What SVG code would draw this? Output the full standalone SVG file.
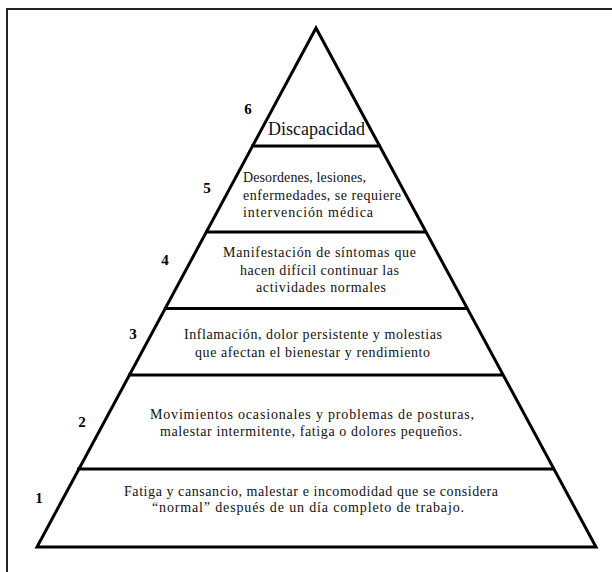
<svg xmlns="http://www.w3.org/2000/svg" width="612" height="572" viewBox="0 0 612 572">
  <style>
    .frame { fill: none; stroke: #222; stroke-width: 2; }
    .edge { fill: none; stroke: #000; stroke-width: 3; stroke-linejoin: miter; }
    .sep { stroke: #000; stroke-width: 3; }
    text { font-family: 'Liberation Serif', 'Times New Roman', 'DejaVu Serif', serif; }
    .t { font-size: 14px; fill: #111; }
    .c { text-anchor: middle; }
    .num { font-size: 15px; font-weight: bold; fill: #000; text-anchor: middle; }
    .big { font-size: 18px; }
  </style>
  <rect x="0" y="0" width="612" height="572" fill="#fff"/>
  <path class="frame" d="M7,572 V9 H612"/>
  <g id="pyramid">
    <polygon class="edge" points="316,28 596,547 37,547"/>
    <line class="sep" x1="251" y1="146" x2="381" y2="146"/>
    <line class="sep" x1="205" y1="232" x2="427" y2="232"/>
    <line class="sep" x1="164" y1="308.5" x2="468" y2="308.5"/>
    <line class="sep" x1="128" y1="375" x2="504" y2="375"/>
    <line class="sep" x1="77" y1="469" x2="555" y2="469"/>
  </g>
  <g id="level6" font-family="Liberation Serif, serif">
    <text class="num" x="248" y="114">6</text>
    <text class="t big" x="268" y="135" textLength="97" lengthAdjust="spacing">Discapacidad</text>
  </g>
  <g id="level5">
    <text class="num" x="207" y="193">5</text>
    <text class="t" x="243" y="182" textLength="123" lengthAdjust="spacing">Desordenes, lesiones,</text>
    <text class="t" x="243" y="200" textLength="158" lengthAdjust="spacing">enfermedades, se requiere</text>
    <text class="t" x="243" y="217" textLength="130" lengthAdjust="spacing">intervención médica</text>
  </g>
  <g id="level4">
    <text class="num" x="165" y="265">4</text>
    <text class="t c" x="319.5" y="257" textLength="193" lengthAdjust="spacing">Manifestación de síntomas que</text>
    <text class="t c" x="319.5" y="275" textLength="159" lengthAdjust="spacing">hacen difícil continuar las</text>
    <text class="t c" x="321" y="292" textLength="130" lengthAdjust="spacing">actividades normales</text>
  </g>
  <g id="level3">
    <text class="num" x="133" y="339">3</text>
    <text class="t c" x="313" y="339" textLength="258" lengthAdjust="spacing">Inflamación, dolor persistente y molestias</text>
    <text class="t c" x="312.5" y="357" textLength="235" lengthAdjust="spacing">que afectan el bienestar y rendimiento</text>
  </g>
  <g id="level2">
    <text class="num" x="82" y="427">2</text>
    <text class="t c" x="312" y="419" textLength="324" lengthAdjust="spacing">Movimientos ocasionales y problemas de posturas,</text>
    <text class="t c" x="311" y="436" textLength="302" lengthAdjust="spacing">malestar intermitente, fatiga o dolores pequeños.</text>
  </g>
  <g id="level1">
    <text class="num" x="39" y="503">1</text>
    <text class="t c" x="311" y="496" textLength="374" lengthAdjust="spacing">Fatiga y cansancio, malestar e incomodidad que se considera</text>
    <text class="t c" x="308" y="512" textLength="312" lengthAdjust="spacing">“normal” después de un día completo de trabajo.</text>
  </g>
</svg>
